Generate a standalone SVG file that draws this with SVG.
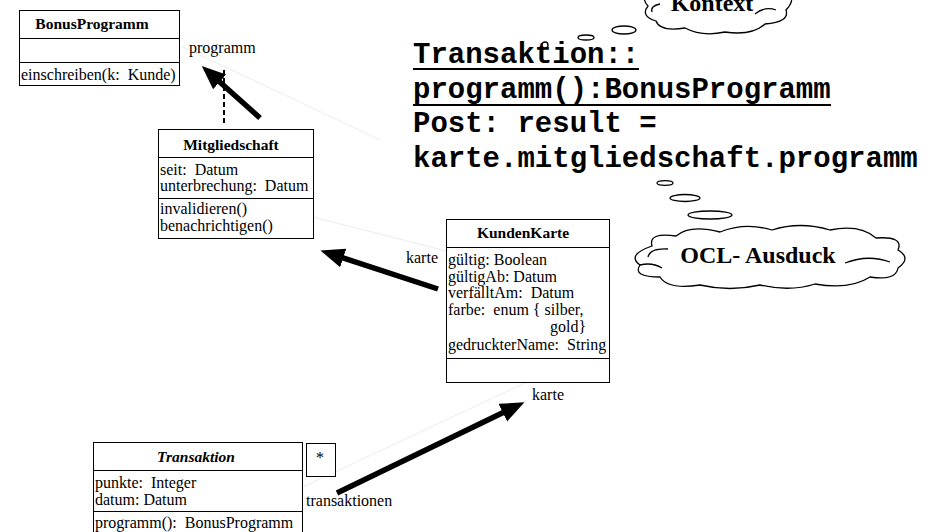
<svg xmlns="http://www.w3.org/2000/svg" width="935" height="532" viewBox="0 0 935 532">
<style>
.box{fill:#fff;stroke:#000;stroke-width:1}
.sep{stroke:#000;stroke-width:1}
.t{font-family:"Liberation Serif","Times New Roman",serif;font-size:16px;fill:#000}
.h{font-family:"Liberation Serif","Times New Roman",serif;font-size:15.5px;font-weight:bold;fill:#000;text-anchor:middle}
.ocl{font-family:"Liberation Mono","Courier New",monospace;font-size:29px;font-weight:bold;fill:#000}
.cl{font-family:"Liberation Serif","Times New Roman",serif;font-size:24px;font-weight:bold;fill:#000;text-anchor:middle}
.faint{stroke:#ececec;stroke-width:1;fill:none}
.arrow{stroke:#000;stroke-width:5.5;fill:none;marker-end:url(#head)}
.cloud{fill:#fff;stroke:#000;stroke-width:1.3}
.curl{fill:none;stroke:#000;stroke-width:1.3}
</style>
<defs>
<marker id="head" markerUnits="userSpaceOnUse" markerWidth="24" markerHeight="20" viewBox="0 0 22 18" refX="4" refY="9" orient="auto">
<path d="M0,0 L22,9 L0,18 z" fill="#000"/>
</marker>
</defs>
<rect width="935" height="532" fill="#fff"/>

<g id="connectors">
<line class="faint" x1="181" y1="46" x2="380" y2="140"/>
<line class="faint" x1="313" y1="217" x2="446" y2="251"/>
<line class="faint" x1="303" y1="487" x2="527" y2="382"/>
<line x1="224" y1="70" x2="224" y2="125" stroke="#000" stroke-width="2" stroke-dasharray="5,3"/>
<line class="arrow" x1="260" y1="118" x2="216.4" y2="79"/>
<line class="arrow" x1="438" y1="289" x2="339.1" y2="256.6"/>
<line class="arrow" x1="337" y1="493" x2="506.8" y2="410.8"/>
<text class="t" x="189" y="53">programm</text>
<text class="t" x="406" y="263">karte</text>
<text class="t" x="532" y="400">karte</text>
<text class="t" x="306" y="506">transaktionen</text>
</g>

<g id="BonusProgramm">
<rect class="box" x="19.5" y="10.5" width="160" height="75"/>
<line class="sep" x1="19.5" y1="38.5" x2="179.5" y2="38.5"/>
<line class="sep" x1="19.5" y1="62.5" x2="179.5" y2="62.5"/>
<text class="h" x="92" y="29">BonusProgramm</text>
<text class="t" x="21" y="80">einschreiben(k:&#160; Kunde)</text>
</g>

<g id="Mitgliedschaft">
<rect class="box" x="158.5" y="129.5" width="155" height="109"/>
<line class="sep" x1="158.5" y1="157.5" x2="313.5" y2="157.5"/>
<line class="sep" x1="158.5" y1="198.5" x2="313.5" y2="198.5"/>
<text class="h" x="231" y="150">Mitgliedschaft</text>
<text class="t" x="160" y="175">seit:&#160; Datum</text>
<text class="t" x="160" y="191">unterbrechung:&#160; Datum</text>
<text class="t" x="160" y="214">invalidieren()</text>
<text class="t" x="160" y="231">benachrichtigen()</text>
</g>

<g id="KundenKarte">
<rect class="box" x="446.5" y="219.5" width="163" height="163"/>
<line class="sep" x1="446.5" y1="247.5" x2="609.5" y2="247.5"/>
<line class="sep" x1="446.5" y1="358.5" x2="609.5" y2="358.5"/>
<text class="h" x="523" y="238">KundenKarte</text>
<text class="t" x="448" y="265">gültig: Boolean</text>
<text class="t" x="448" y="282">gültigAb: Datum</text>
<text class="t" x="448" y="298">verfälltAm:&#160; Datum</text>
<text class="t" x="448" y="315">farbe:&#160; enum { silber,</text>
<text class="t" x="550" y="332">gold}</text>
<text class="t" x="448" y="350">gedruckterName:&#160; String</text>
</g>

<g id="Transaktion">
<rect class="box" x="93.5" y="442.5" width="209" height="110"/>
<line class="sep" x1="93.5" y1="470.5" x2="302.5" y2="470.5"/>
<line class="sep" x1="93.5" y1="511.5" x2="302.5" y2="511.5"/>
<text class="h" x="196" y="462" font-style="italic">Transaktion</text>
<text class="t" x="95" y="488">punkte:&#160; Integer</text>
<text class="t" x="95" y="505">datum: Datum</text>
<text class="t" x="95" y="528">programm():&#160; BonusProgramm</text>
</g>

<g id="multiplicity">
<rect class="box" x="306.5" y="443.5" width="29" height="33"/>
<text class="t" x="320" y="463" text-anchor="middle">*</text>
</g>

<g id="OCL-text">
<text class="ocl" x="413" y="63">Transaktion::</text>
<line x1="413" y1="69" x2="639" y2="69" stroke="#000" stroke-width="2"/>
<text class="ocl" x="413" y="98">programm():BonusProgramm</text>
<line x1="413" y1="105" x2="831" y2="105" stroke="#000" stroke-width="2"/>
<text class="ocl" x="413" y="132">Post: result =</text>
<text class="ocl" x="413" y="167">karte.mitgliedschaft.programm</text>
</g>

<g id="Kontext-cloud">
<path class="cloud" d="M650,-10 Q640,-2 648,6 Q640,16 656,21 Q660,32 685,28 Q702,37 725,32 Q752,36 765,24 Q790,22 786,10 Q798,-2 785,-14 Z"/>
<path class="curl" d="M660,4 Q650,6 652,12"/>
<path class="curl" d="M755,14 Q765,6 776,10"/>
<text class="cl" x="712" y="11">Kontext</text>
<ellipse class="cloud" cx="624" cy="30" rx="12" ry="4"/>
<ellipse class="cloud" cx="586" cy="37.5" rx="8" ry="2.5"/>
<circle class="cloud" cx="545" cy="45" r="3"/>
</g>

<g id="OCL-cloud">
<ellipse class="cloud" cx="665" cy="183" rx="8" ry="2.3"/>
<ellipse class="cloud" cx="685" cy="198" rx="15" ry="3.5"/>
<ellipse class="cloud" cx="710" cy="215" rx="22" ry="4"/>
<path class="cloud" d="M652,246 Q648,232 676,236 Q690,224 720,232 Q745,222 772,230 Q800,221 830,230 Q860,224 876,238 Q904,236 898,250 Q912,258 898,268 Q896,281 870,277 Q850,290 815,284 Q790,292 760,285 Q730,292 700,285 Q668,290 660,277 Q632,277 640,265 Q626,255 652,246 Z"/>
<path class="curl" d="M668,249 Q650,248 648,257"/>
<path class="curl" d="M845,263 Q868,254 890,262"/>
<path class="curl" d="M640,265 Q652,262 662,268"/>
<text class="cl" x="758" y="263">OCL- Ausduck</text>
</g>
</svg>
